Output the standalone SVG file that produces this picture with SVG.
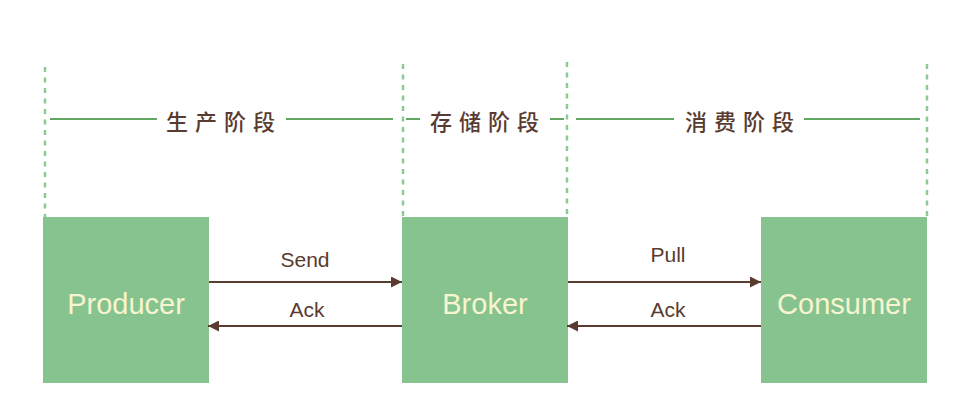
<svg xmlns="http://www.w3.org/2000/svg" width="966" height="412" viewBox="0 0 966 412">
<style>
.box{fill:#86c38f;}
.vdash{stroke:#8cc993;stroke-width:2.5;stroke-dasharray:5 5.5;fill:none;}
.hline{stroke:#2c882c;stroke-width:1.5;fill:none;}
.stage{font-family:"Noto Sans CJK SC","Noto Sans",sans-serif;font-size:22px;font-weight:500;fill:#5a3b30;letter-spacing:7px;text-anchor:middle;}
.name{font-family:"Liberation Sans","DejaVu Sans",sans-serif;font-size:29px;fill:#f7f5cf;text-anchor:middle;}
.lbl{font-family:"Liberation Sans","DejaVu Sans",sans-serif;font-size:21px;fill:#5a3b30;text-anchor:middle;}
.arr{stroke:#5a3b30;stroke-width:2;fill:none;marker-end:url(#ah);}
</style>
<defs>
<marker id="ah" viewBox="0 0 10 10" refX="10" refY="5" markerWidth="11" markerHeight="11" markerUnits="userSpaceOnUse" orient="auto">
<path d="M0,0 L10,5 L0,10 z" fill="#5a3b30"/>
</marker>
</defs>
<rect width="966" height="412" fill="#ffffff"/>
<g id="guides">
<line class="vdash" x1="45" y1="67" x2="45" y2="217"/>
<line class="vdash" x1="403" y1="64" x2="403" y2="217"/>
<line class="vdash" x1="567" y1="62" x2="567" y2="217"/>
<line class="vdash" x1="927" y1="64" x2="927" y2="217"/>
<line class="hline" x1="50" y1="119" x2="157" y2="119"/>
<line class="hline" x1="286" y1="119" x2="393" y2="119"/>
<line class="hline" x1="406" y1="119" x2="420" y2="119"/>
<line class="hline" x1="550" y1="119" x2="564" y2="119"/>
<line class="hline" x1="576" y1="119" x2="674" y2="119"/>
<line class="hline" x1="804" y1="119" x2="920" y2="119"/>
</g>
<g id="stage-produce"><text class="stage" x="224" y="130">生产阶段</text></g>
<g id="stage-store"><text class="stage" x="488" y="130">存储阶段</text></g>
<g id="stage-consume"><text class="stage" x="743" y="130">消费阶段</text></g>
<g id="producer">
<rect class="box" x="43" y="217" width="166" height="166"/>
<text class="name" x="126" y="314">Producer</text>
</g>
<g id="broker">
<rect class="box" x="402" y="217" width="166" height="166"/>
<text class="name" x="485" y="314">Broker</text>
</g>
<g id="consumer">
<rect class="box" x="761" y="217" width="166" height="166"/>
<text class="name" x="844" y="314">Consumer</text>
</g>
<g id="connectors">
<line class="arr" x1="209" y1="282" x2="402" y2="282"/>
<line class="arr" x1="402" y1="326" x2="208" y2="326"/>
<line class="arr" x1="568" y1="282" x2="761" y2="282"/>
<line class="arr" x1="761" y1="326" x2="567" y2="326"/>
<text class="lbl" x="305" y="267">Send</text>
<text class="lbl" x="307" y="317">Ack</text>
<text class="lbl" x="668" y="262">Pull</text>
<text class="lbl" x="668" y="317">Ack</text>
</g>
</svg>
